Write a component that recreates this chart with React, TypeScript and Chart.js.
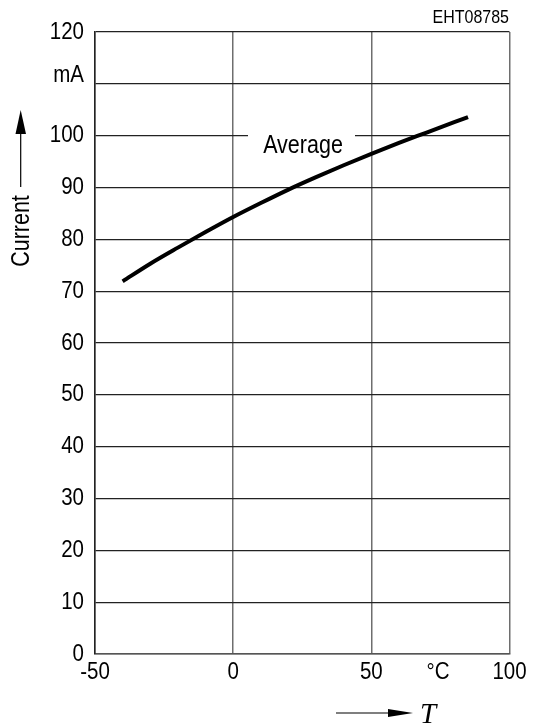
import React, { useEffect, useRef } from "react";
import { Chart, registerables } from "chart.js";

Chart.register(...registerables);

const temperatures = [-40, -30, -20, -10, 0, 10, 20, 30, 40, 50, 60, 70, 80, 85];
const averageCurrent = [71.9, 75.3, 78.4, 81.4, 84.3, 87.0, 89.6, 92.0, 94.3, 96.5, 98.6, 100.6, 102.6, 103.6];
const xTicks = [-50, 0, 50, 100];
const yMin = 0;
const yMax = 120;
const yStep = 10;
const unitTickValue = 110;
const unitLabel = "mA";
const xUnitLabel = "°C";
const yAxisTitle = "Current";
const xAxisTitle = "T";
const curveLabel = "Average";
const docId = "EHT08785";

const SANS = "'Liberation Sans', Arial, Helvetica, sans-serif";
const STRETCH = 1.16;

function tallText(
  ctx: CanvasRenderingContext2D,
  text: string,
  x: number,
  y: number,
  size: number,
  align: CanvasTextAlign,
  baseline: CanvasTextBaseline = "middle"
) {
  ctx.save();
  ctx.translate(x, y);
  ctx.scale(1, STRETCH);
  ctx.font = `${size}px ${SANS}`;
  ctx.textAlign = align;
  ctx.textBaseline = baseline;
  ctx.fillStyle = "#000";
  ctx.fillText(text, 0, 0);
  ctx.restore();
}

const overlayPlugin = {
  id: "overlay",
  afterDraw(chart: any) {
    const ctx = chart.ctx as CanvasRenderingContext2D;
    const xs = chart.scales.x;
    const ys = chart.scales.y;
    ctx.save();

    // y tick labels
    ys.ticks.forEach((t: any) => {
      const py = ys.getPixelForValue(t.value);
      if (t.value === unitTickValue) {
        tallText(ctx, unitLabel, xs.left - 11, py - 8, 20.5, "right");
      } else {
        tallText(ctx, String(t.value), xs.left - 11, py, 20.5, "right");
      }
    });
    // x tick labels
    xs.ticks.forEach((t: any) => {
      tallText(ctx, String(t.value), xs.getPixelForValue(t.value), ys.bottom + 18, 20.5, "center");
    });
    tallText(ctx, xUnitLabel, 438, ys.bottom + 18, 20.5, "center");

    // label on the curve, masking the 100 gridline
    const y100 = ys.getPixelForValue(100);
    ctx.fillStyle = "#fff";
    ctx.fillRect(248, y100 - 3, 107, 6);
    tallText(ctx, curveLabel, 303, 153, 21.5, "center", "alphabetic");

    // doc id
    tallText(ctx, docId, 509, 18, 16, "right");

    // y axis title with arrow
    ctx.save();
    ctx.translate(22, 231);
    ctx.rotate(-Math.PI / 2);
    ctx.scale(1, STRETCH);
    ctx.font = `21.5px ${SANS}`;
    ctx.textAlign = "center";
    ctx.textBaseline = "middle";
    ctx.fillStyle = "#000";
    ctx.fillText(yAxisTitle, 0, 0);
    ctx.restore();

    ctx.fillStyle = "#000";
    ctx.strokeStyle = "#000";
    ctx.lineWidth = 1.2;
    ctx.beginPath();
    ctx.moveTo(20.7, 187);
    ctx.lineTo(20.7, 130);
    ctx.stroke();
    ctx.beginPath();
    ctx.moveTo(20.7, 110);
    ctx.lineTo(15.5, 134);
    ctx.lineTo(26, 134);
    ctx.closePath();
    ctx.fill();

    // x axis title with arrow
    ctx.beginPath();
    ctx.moveTo(336, 713);
    ctx.lineTo(392, 713);
    ctx.stroke();
    ctx.beginPath();
    ctx.moveTo(413, 713);
    ctx.lineTo(388, 709);
    ctx.lineTo(388, 717);
    ctx.closePath();
    ctx.fill();
    ctx.font = `italic 29px 'Liberation Serif', 'Times New Roman', serif`;
    ctx.textAlign = "left";
    ctx.textBaseline = "alphabetic";
    ctx.fillText(xAxisTitle, 420, 723);
    ctx.restore();
  },
};

export default function App() {
  const ref = useRef<HTMLCanvasElement | null>(null);
  useEffect(() => {
    if (!ref.current) return;
    const chart = new Chart(ref.current, {
      type: "line",
      data: {
        datasets: [
          {
            label: curveLabel,
            data: temperatures.map((t, i) => ({ x: t, y: averageCurrent[i] })),
            borderColor: "#000",
            borderWidth: 4,
            pointRadius: 0,
            cubicInterpolationMode: "monotone",
            fill: false,
          },
        ],
      },
      options: {
        animation: false,
        responsive: false,
        layout: { padding: { left: 0, right: 23, top: 32, bottom: 0 } },
        plugins: { legend: { display: false }, tooltip: { enabled: false } },
        scales: {
          x: {
            type: "linear",
            min: xTicks[0],
            max: xTicks[xTicks.length - 1],
            afterFit: (s: any) => {
              s.height = 73;
            },
            afterBuildTicks: (s: any) => {
              s.ticks = xTicks.map((v) => ({ value: v }));
            },
            ticks: {
              color: "rgba(0,0,0,0)",
              font: { family: SANS, size: 21 },
              padding: 6,
              maxRotation: 0,
              autoSkip: false,
            },
            grid: { color: "#6e6e6e", lineWidth: 1.5, drawTicks: false },
            border: { color: "#555", width: 1.5 },
          },
          y: {
            type: "linear",
            min: yMin,
            max: yMax,
            afterFit: (s: any) => {
              s.width = 95;
            },
            ticks: {
              stepSize: yStep,
              color: "rgba(0,0,0,0)",
              font: { family: SANS, size: 21 },
              padding: 11,
            },
            grid: { color: "#222", lineWidth: 1.3, drawTicks: false },
            border: { color: "#222", width: 1.5 },
          },
        },
      },
      plugins: [overlayPlugin],
    } as any);
    return () => chart.destroy();
  }, []);
  return (
    <div style={{ position: "absolute", left: 0, top: 0, width: 533, height: 727, background: "#fff" }}>
      <canvas ref={ref} width={533} height={727} style={{ display: "block" }} />
    </div>
  );
}
